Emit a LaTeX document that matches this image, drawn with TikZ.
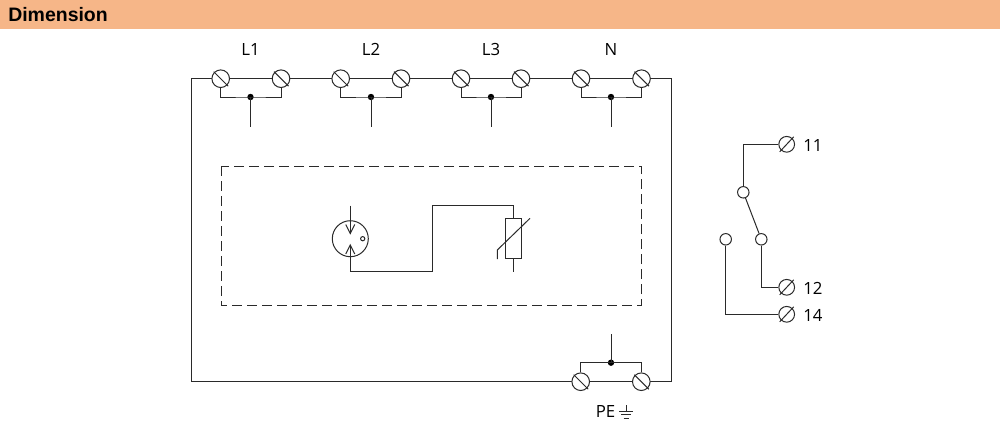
\documentclass[tikz,border=0pt]{standalone}
\usepackage{fontspec}
\setmainfont{Liberation Sans}
\newfontfamily\lblfont{Open Sans}
\definecolor{band}{HTML}{F6B688}
\definecolor{ink}{HTML}{2A2A2A}
\tikzset{
  wire/.style={draw=ink,line width=0.75pt},
  terma/.style={circle,draw=ink,line width=0.75pt,fill=white,inner sep=0pt,minimum size=13.2pt},
  termb/.style={circle,draw=ink,line width=0.75pt,fill=white,inner sep=0pt,minimum size=11.8pt},
  junction/.style={circle,fill=black,inner sep=0pt,minimum size=4.8pt},
  contact/.style={circle,draw=ink,line width=0.75pt,fill=white,inner sep=0pt,minimum size=8.6pt},
  lbl/.style={inner sep=0pt,font=\lblfont\fontsize{12.6pt}{14pt}\selectfont,text=black}
}
\newcommand{\slasha}[1]{\draw[wire] ([shift={(-7,-7)}]#1.center) -- ([shift={(7.5,7.5)}]#1.center);}
\newcommand{\slashb}[1]{\draw[wire] ([shift={(-7,7.5)}]#1.center) -- ([shift={(7,-7.5)}]#1.center);}
\begin{document}
\begin{tikzpicture}[x=0.75pt,y=-0.75pt]
\useasboundingbox (0,0) rectangle (1000,430);
\fill[band] (0,0) rectangle (1000,28.5);
\node[anchor=base west,inner sep=0pt,font=\fontsize{14.6pt}{16pt}\selectfont\bfseries,text=black] (title) at (8,21.6) {Dimension};

% main frame corners
\coordinate (tl) at (191,78.7);
\coordinate (bl) at (191,381.7);
\coordinate (tr) at (671,78.7);
\coordinate (br) at (671,381.7);

\draw[wire] (bl) -- (tl) -- (tr) -- (br) -- (bl);

\foreach \n/\x/\y in {a1/220.7/78.7,b1/281/78.7,a2/340.7/78.7,b2/401/78.7,a3/461/78.7,b3/521/78.7,a4/581/78.7,b4/641.5/78.7,pa/580.7/381.7,pb/641.3/381.7}{
  \node[terma] (T\n) at (\x,\y) {};
  \slasha{T\n}
}

% feed junctions
\foreach \i/\x/\l in {1/250.5/L1,2/371/L2,3/491/L3,4/611/N}{
  \node[junction] (j\i) at (\x,97) {};
  \coordinate (s\i) at (\x,126.7);
  \draw[wire] (Ta\i.south) |- (j\i.center) -| (Tb\i.south);
  \draw[wire] (j\i.center) -- (s\i);
  \node[lbl] (lab\i) at (\x,49) {\l};
}

% PE
\node[junction] (jp) at (611,362.7) {};
\coordinate (sp) at (611,334);
\draw[wire] (Tpa.north) |- (jp.center) -| (Tpb.north);
\draw[wire] (jp.center) -- (sp);
\node[lbl,anchor=west] (pe) at (595.5,411.7) {PE};
\coordinate (g0) at (626,405);
\coordinate (g1) at (626,411);
\draw[wire,line width=0.6pt] (g0) -- (g1);
\draw[wire,line width=0.6pt] (619,411) -- (633,411);
\draw[wire,line width=0.6pt] (621,414.7) -- (631,414.7);
\draw[wire,line width=0.6pt] (623.5,418) -- (628.5,418);

% dashed box
\draw[wire,dash pattern=on 7.5pt off 3.75pt] (221,166) rectangle (641,305);

% sensor
\node[circle,draw=ink,line width=0.75pt,inner sep=0pt,minimum size=27pt] (sens) at (350.3,238.7) {};
\node[circle,draw=ink,line width=0.75pt,inner sep=0pt,minimum size=3.2pt] (sdot) at (362.7,238.7) {};
\coordinate (st) at (350.3,205.7);
\coordinate (sti) at (350.3,233.5);
\coordinate (sb) at (350.3,271.7);
\coordinate (sbi) at (350.3,245);
\draw[wire] (st) -- (sti);
\draw[wire] (sb) -- (sbi);
\draw[wire] (345.8,224.5) -- (sti) -- (354.8,224.5);
\draw[wire] (345.8,254) -- (sbi) -- (354.8,254);

% varistor
\node[draw=ink,line width=0.75pt,inner sep=0pt,minimum width=12pt,minimum height=30.3pt] (var) at (513.7,238.5) {};
\coordinate (w1) at (432,271.7);
\coordinate (w2) at (432,205.5);
\draw[wire] (sb) -- (w1) -- (w2) -| (var.north);
\coordinate (vb) at (513.7,271.7);
\draw[wire] (var.south) -- (vb);
\coordinate (d1) at (497.3,259);
\coordinate (d2) at (497.3,250);
\coordinate (d3) at (530,218.3);
\draw[wire] (d1) -- (d2) -- (d3);

% relay
\node[contact] (c1) at (743.3,192.3) {};
\node[contact] (c2) at (761.3,239.3) {};
\node[contact] (c3) at (725.7,239.3) {};
\node[termb] (t11) at (786.7,144.3) {}; \slashb{t11}
\node[termb] (t12) at (786.7,287.3) {}; \slashb{t12}
\node[termb] (t14) at (786.7,314.3) {}; \slashb{t14}
\draw[wire] (t11.west) -| (c1.north);
\draw[wire] (c1) -- (c2);
\draw[wire] (c2.south) |- (t12.west);
\draw[wire] (c3.south) |- (t14.west);
\node[lbl,anchor=west] (l11) at (803,145) {11};
\node[lbl,anchor=west] (l12) at (803,288) {12};
\node[lbl,anchor=west] (l14) at (803,315) {14};
\end{tikzpicture}
\end{document}
